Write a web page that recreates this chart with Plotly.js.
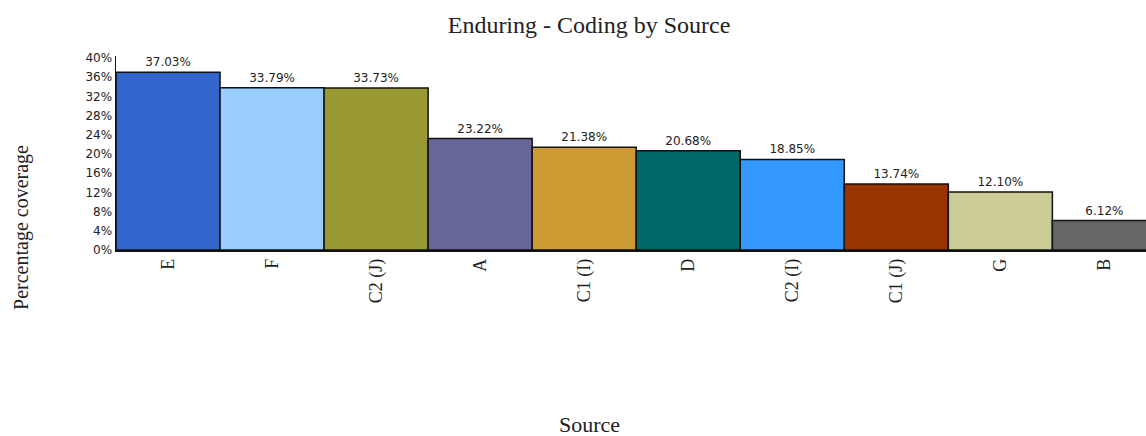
<!DOCTYPE html>
<html>
<head>
<meta charset="utf-8">
<script src="https://cdn.plot.ly/plotly-3.0.1.min.js"></script>
<style>html,body{margin:0;padding:0;background:#fff;}#chart{width:1146px;height:436px;}</style>
</head>
<body>
<div id="chart"></div>
<script>
const categories = ["E", "F", "C2 (J)", "A", "C1 (I)", "D", "C2 (I)", "C1 (J)", "G", "B"];
const coverage = [37.03, 33.79, 33.73, 23.22, 21.38, 20.68, 18.85, 13.74, 12.10, 6.12];
const labels = ["37.03%", "33.79%", "33.73%", "23.22%", "21.38%", "20.68%", "18.85%", "13.74%", "12.10%", "6.12%"];
const colors = ["#3366CC", "#99CCFF", "#999933", "#666699", "#CC9933", "#006666", "#3399FF", "#993300", "#CCCC99", "#666666"];
const yTicks = [0, 4, 8, 12, 16, 20, 24, 28, 32, 36, 40];

const trace = {
  type: "bar",
  x: categories,
  y: coverage,
  text: labels,
  textposition: "outside",
  cliponaxis: false,
  textfont: {family: "DejaVu Sans, Verdana, sans-serif", size: 12, color: "#222"},
  marker: {color: colors, line: {color: "#111", width: 1.5}},
  hoverinfo: "x+y"
};

const layout = {
  width: 1146, height: 436,
  margin: {l: 116, r: 0, t: 56, b: 186},
  paper_bgcolor: "#fff", plot_bgcolor: "#fff",
  bargap: 0,
  showlegend: false,
  title: {text: "Enduring - Coding by Source", x: 0.514, xanchor: "center", y: 0.943, yanchor: "middle",
          font: {family: "Liberation Serif, Times New Roman, serif", size: 24, color: "#222"}},
  xaxis: {
    type: "category",
    range: [-0.5, 9.4],
    tickangle: -90,
    tickfont: {family: "Liberation Serif, Times New Roman, serif", size: 18, color: "#222"},
    showline: true, linecolor: "#111", linewidth: 1.5,
    ticks: "", ticklen: 0, showgrid: false, zeroline: false
  },
  yaxis: {
    range: [0, 40.4],
    tickvals: yTicks,
    ticktext: yTicks.map(v => v + "%"),
    tickfont: {family: "DejaVu Sans, Verdana, sans-serif", size: 12, color: "#222"},
    showline: true, linecolor: "#111", linewidth: 1.5,
    ticks: "", showgrid: false, zeroline: false
  },
  annotations: [
    {text: "Percentage coverage", xref: "paper", yref: "paper", x: -0.0913, y: 0.1186, textangle: -90,
     showarrow: false, xanchor: "center", yanchor: "middle",
     font: {family: "Liberation Serif, Times New Roman, serif", size: 20, color: "#222"}},
    {text: "Source", xref: "paper", yref: "paper", x: 0.46, y: -0.897,
     showarrow: false, xanchor: "center", yanchor: "middle",
     font: {family: "Liberation Serif, Times New Roman, serif", size: 22, color: "#222"}}
  ]
};

Plotly.newPlot("chart", [trace], layout, {displayModeBar: false, staticPlot: true});
</script>
</body>
</html>
